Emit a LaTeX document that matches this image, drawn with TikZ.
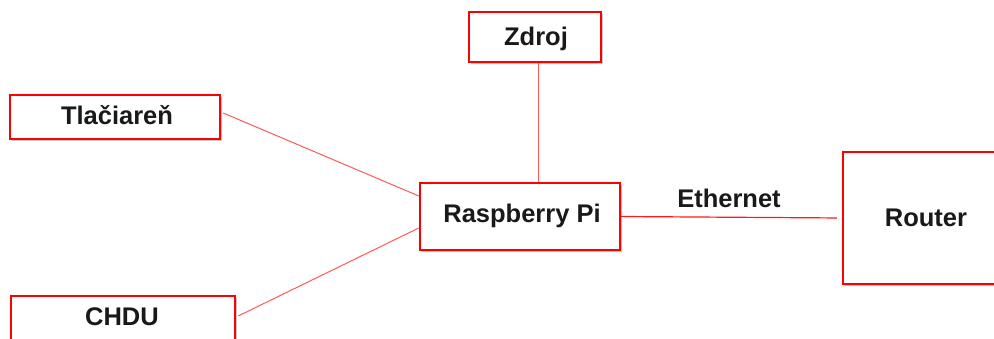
\documentclass[tikz,border=0pt]{standalone}
\usepackage{fontspec}
\setmainfont{Liberation Sans}
\usetikzlibrary{shadows}
\tikzset{
  box/.style={draw=red, line width=2.4pt, fill=white, rectangle, inner sep=0pt,
    drop shadow={shadow xshift=1.6pt, shadow yshift=-1.6pt, fill=black, opacity=.22}},
  link/.style={draw=red!65, line width=1pt},
  eth/.style={draw=red!90, line width=1.2pt},
  txt/.style={font=\fontsize{25.5}{30}\selectfont\bfseries, text=black!90, inner sep=0pt, anchor=base},
}
\begin{document}
\begin{tikzpicture}[x=1pt, y=-1pt]
\useasboundingbox (0,0) rectangle (994,339);
\clip (0,0) rectangle (994,339);
\fill[white] (0,0) rectangle (994,339);
% boxes
\node[box, minimum width=132pt, minimum height=50pt] (zdroj) at (535,37) {};
\node[box, minimum width=210pt, minimum height=44pt] (tlac) at (115,117) {};
\node[box, minimum width=200pt, minimum height=67pt] (rpi) at (520,216.5) {};
\node[box, minimum width=224pt, minimum height=50pt] (chdu) at (123,321) {};
\node[box, minimum width=160pt, minimum height=132pt] (router) at (923,218) {};
% connectors
\draw[link] ([xshift=3pt]zdroj.south) -- ([xshift=3pt]zdroj.south |- rpi.north);
\draw[link] ([xshift=2pt,yshift=4pt]tlac.east) -- ([yshift=20.5pt]rpi.west);
\draw[link] ([xshift=2pt,yshift=5pt]chdu.east) -- ([yshift=-11.5pt]rpi.west);
\draw[eth, shorten >=5pt] (rpi.east) -- (router.west);
% labels
\node[txt] (lzdroj) at (536,46) {Zdroj};
\node[txt] (ltlac) at (117,125) {Tlačiareň};
\node[txt] (lrpi) at (522,223) {Raspberry Pi};
\node[txt] (lchdu) at (122,326) {CHDU};
\node[txt] (lrouter) at (926,227) {Router};
\node[txt] (leth) at (729,208) {Ethernet};
\end{tikzpicture}
\end{document}
